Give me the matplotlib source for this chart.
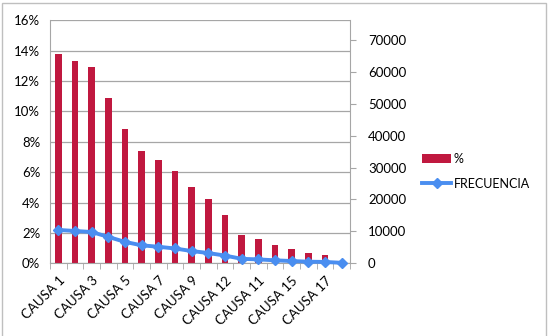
import matplotlib.pyplot as plt
import numpy as np
from matplotlib.patches import Rectangle

plt.rcParams['font.family'] = ['Lato', 'DejaVu Sans']

# data
causas = ['CAUSA 1', 'CAUSA 2', 'CAUSA 3', 'CAUSA 4', 'CAUSA 5', 'CAUSA 6',
          'CAUSA 7', 'CAUSA 8', 'CAUSA 9', 'CAUSA 10', 'CAUSA 12', 'CAUSA 13',
          'CAUSA 11', 'CAUSA 14', 'CAUSA 15', 'CAUSA 16', 'CAUSA 17', 'CAUSA 18']
porcentaje = [13.75, 13.33, 12.9, 10.88, 8.82, 7.41, 6.82, 6.1, 5.05, 4.23,
              3.18, 1.84, 1.6, 1.23, 0.94, 0.66, 0.55, 0.02]
frecuencia = [10450, 10130, 9800, 8270, 6700, 5630, 5180, 4640, 3840, 3210,
              2420, 1400, 1220, 930, 710, 500, 420, 150]

fs = 9.5
fig = plt.figure(figsize=(5.52, 3.36), dpi=100)
fig.patches.append(Rectangle((0.004, -0.05), 0.986, 1.04, transform=fig.transFigure,
                             fill=False, edgecolor='#BFBFBF', lw=1))
ax = fig.add_axes([0.0906, 0.2164, 0.5434, 0.7236])
x = np.arange(len(causas))

ax.bar(x, porcentaje, width=0.4, color='#C0183F', label='%', zorder=2)
ax.set_ylim(0, 16)
ax.set_xlim(-0.5, len(causas) - 0.5)
ax.set_yticks(range(0, 17, 2))
ax.set_yticklabels([f'{v}%' for v in range(0, 17, 2)], fontsize=fs)
ax.yaxis.grid(True, color='#A6A6A6', lw=0.9, zorder=0)
ax.tick_params(axis='y', length=0, pad=7)

ax.set_xticks(x[::2])
ax.set_xticklabels(causas[::2], rotation=45, ha='right', rotation_mode='anchor', fontsize=fs)
ax.set_xticks(np.arange(-0.5, len(causas)), minor=True)
ax.tick_params(axis='x', which='major', length=0, pad=8)
ax.tick_params(axis='x', which='minor', length=4, color='#A6A6A6')

for s in ['top', 'right']:
    ax.spines[s].set_visible(False)
for s in ['left', 'bottom']:
    ax.spines[s].set_color('#A6A6A6')

ax2 = ax.twinx()
ax2.plot(x, frecuencia, color='#4A8EF0', lw=2.8, marker='D', markersize=5,
         label='FRECUENCIA', zorder=3, clip_on=False)
ax2.set_ylim(0, 76200)
ax2.set_yticks(range(0, 70001, 10000))
ax2.set_yticklabels([str(v) for v in range(0, 70001, 10000)], fontsize=fs)
ax2.tick_params(axis='y', length=4, color='#A6A6A6', pad=9)
for s in ['top', 'left', 'bottom']:
    ax2.spines[s].set_visible(False)
ax2.spines['right'].set_color('#A6A6A6')

h1, l1 = ax.get_legend_handles_labels()
h2, l2 = ax2.get_legend_handles_labels()
fig.legend(h1 + h2, l1 + l2, loc='center left', bbox_to_anchor=(0.745, 0.49),
           frameon=False, fontsize=9, handlelength=2.3, labelspacing=1.0,
           handletextpad=0.2)

fig.savefig('out.png', dpi=100)
